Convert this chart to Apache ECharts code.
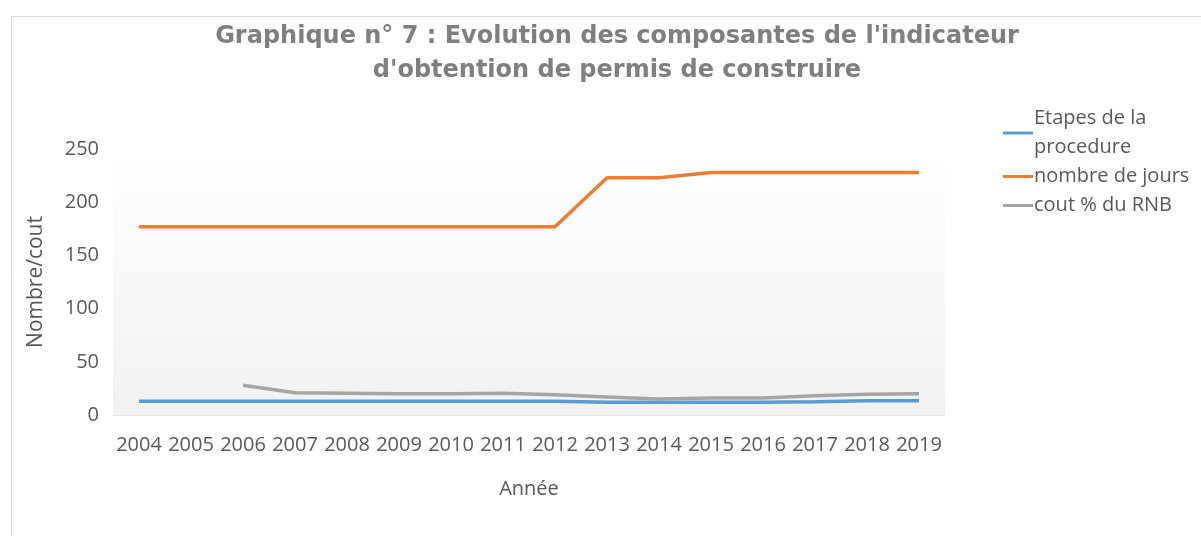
<!DOCTYPE html>
<html>
<head>
<meta charset="utf-8">
<title>Graphique n° 7</title>
<script src="https://cdn.jsdelivr.net/npm/echarts@6/dist/echarts.min.js"></script>
<style>
  html, body { margin: 0; padding: 0; background: #fff; }
  #chart { width: 1201px; height: 536px; }
</style>
</head>
<body>
<div id="chart"></div>
<script>
// années
var annees = ['2004', '2005', '2006', '2007', '2008', '2009', '2010', '2011',
              '2012', '2013', '2014', '2015', '2016', '2017', '2018', '2019'];

// séries
var etapes = [13, 13, 13, 13, 13, 13, 13, 13, 13, 12, 12, 12, 12, 12.5, 13.5, 13.5];
var jours  = [177, 177, 177, 177, 177, 177, 177, 177, 177, 223, 223, 228, 228, 228, 228, 228];
var cout   = ['-', '-', 28, 21, 20.5, 20, 20, 20.5, 19, 17, 15, 16, 16, 18, 19.5, 20];

var yTicks = [0, 50, 100, 150, 200, 250];

var chart = echarts.init(document.getElementById('chart'));

var txt = '#595959';
var font = '"Open Sans", "DejaVu Sans", sans-serif';

var option = {
    animation: false,
    title: {
        text: "Graphique n° 7 : Evolution des composantes de l'indicateur\nd'obtention de permis de construire",
        left: 612,
        textAlign: 'center',
        top: 15,
        textStyle: {
            fontFamily: '"DejaVu Sans", sans-serif',
            fontWeight: 'bold',
            fontSize: 24,
            lineHeight: 34,
            color: '#7f7f7f'
        }
    },
    legend: {
        orient: 'vertical',
        left: 998,
        top: 99,
        itemGap: 0,
        itemWidth: 30,
        itemHeight: 3,
        icon: 'rect',
        data: ['Etapes de la procedure', 'nombre de jours', 'cout % du RNB'],
        formatter: function (name) {
            return name === 'Etapes de la procedure' ? 'Etapes de la\nprocedure' : name;
        },
        textStyle: {
            fontFamily: font,
            fontSize: 20,
            lineHeight: 29,
            color: txt,
            padding: [0, 0, 0, -4]
        }
    },
    grid: {
        left: 113,
        right: 256,
        top: 149,
        bottom: 121,
        show: true,
        borderWidth: 0,
        backgroundColor: new echarts.graphic.LinearGradient(0, 0, 0, 1, [
            { offset: 0, color: '#ffffff' },
            { offset: 1, color: '#f1f1f1' }
        ])
    },
    xAxis: {
        type: 'category',
        data: annees,
        boundaryGap: true,
        name: 'Année',
        nameLocation: 'middle',
        nameGap: 64,
        nameTextStyle: { fontFamily: font, fontSize: 20, color: txt },
        axisLine: { show: true, lineStyle: { color: '#e6e6e6', width: 1 } },
        axisTick: { show: false },
        axisLabel: {
            interval: 0,
            margin: 20,
            fontFamily: font,
            fontSize: 20,
            color: txt
        },
        splitLine: { show: false }
    },
    yAxis: {
        type: 'value',
        min: yTicks[0],
        max: yTicks[yTicks.length - 1],
        interval: 50,
        name: 'Nombre/cout',
        nameLocation: 'middle',
        nameGap: 66,
        nameTextStyle: { fontFamily: font, fontSize: 21, color: txt },
        axisLine: { show: false },
        axisTick: { show: false },
        axisLabel: {
            margin: 14,
            fontFamily: font,
            fontSize: 20,
            color: txt
        },
        splitLine: { show: false }
    },
    graphic: [{
        type: 'rect',
        silent: true,
        shape: { x: 11.5, y: 16.5, width: 1300, height: 600 },
        style: { fill: 'none', stroke: '#dcdcdc', lineWidth: 1 }
    }],
    series: [
        {
            name: 'Etapes de la procedure',
            type: 'line',
            data: etapes,
            showSymbol: false,
            symbol: 'none',
            lineStyle: { width: 3.5, color: '#5b9bd5' },
            itemStyle: { color: '#5b9bd5' }
        },
        {
            name: 'nombre de jours',
            type: 'line',
            data: jours,
            showSymbol: false,
            symbol: 'none',
            lineStyle: { width: 3.5, color: '#ed7d31' },
            itemStyle: { color: '#ed7d31' }
        },
        {
            name: 'cout % du RNB',
            type: 'line',
            data: cout,
            showSymbol: false,
            symbol: 'none',
            lineStyle: { width: 3.5, color: '#a5a5a5' },
            itemStyle: { color: '#a5a5a5' }
        }
    ]
};

chart.setOption(option);
</script>
</body>
</html>
